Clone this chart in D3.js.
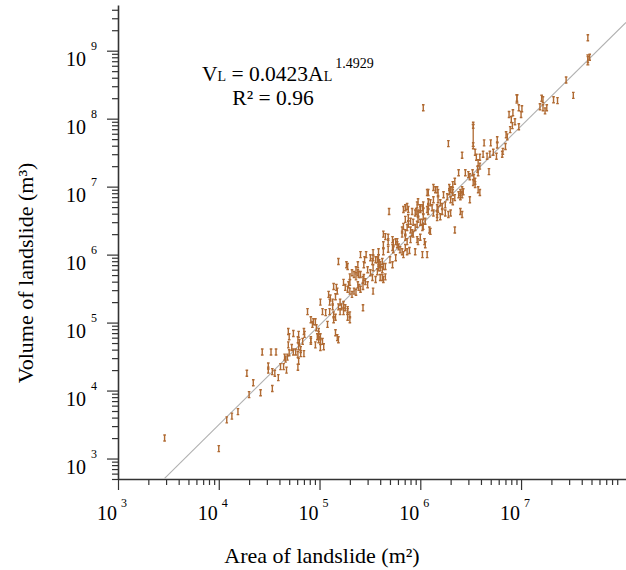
<!DOCTYPE html>
<html>
<head>
<meta charset="utf-8">
<title>Area vs volume of landslide</title>
<script src="https://d3js.org/d3.v7.min.js"></script>
<style>
  body { margin: 0; background: #fff; }
  svg { display: block; font-family: "Liberation Serif", "Times New Roman", serif; }
</style>
</head>
<body>
<script>
var width = 626, height = 570;

// tick exponents (labels are 10^n)
var xExponents = [3, 4, 5, 6, 7];
var yExponents = [3, 4, 5, 6, 7, 8, 9];

// landslide area (m2) and volume (m3)
var area = [
  2.9e3, 1.0e4, 1.2e4, 1.35e4, 1.55e4, 1.9e4, 2.0e4, 2.2e4, 2.6e4, 3.1e4,
  3.1e4, 3.4e4, 3.6e4, 3.4e4, 2.7e4, 3.3e4, 3.7e4, 3.9e4, 4.1e4, 4.4e4,
  4.7e4, 4.6e4, 4.8e4, 4.5e4, 4.9e4, 5.3e4, 5.0e4, 5.5e4, 5.8e4, 6.1e4,
  6.5e4, 6.2e4, 6.1e4, 6.8e4, 4.9e4, 5.5e4, 6.2e4, 7.0e4, 5.0e4, 7.1e4,
  6.2e4, 6.5e4, 7.0e4, 8.2e4, 9.5e4, 9.1e4, 1.02e5, 9.8e4, 1.44e5, 1.54e5,
  7.6e4, 8.2e4, 8.7e4, 9.1e4, 8.5e4, 9.3e4, 9.8e4, 1.02e5, 9.8e4, 1.07e5,
  1.1e5, 1.02e5, 8.2e4, 1.2e5, 1.5e5, 1.02e5, 1.07e5, 1.15e5, 1.23e5, 1.28e5,
  1.26e5, 1.35e5, 1.26e5, 1.38e5, 1.38e5, 1.47e5, 1.6e5, 1.65e5, 1.73e5, 1.8e5,
  1.9e5, 1.9e5, 2.0e5, 2.0e5, 1.54e5, 1.85e5, 1.73e5, 2.0e5, 2.1e5, 2.2e5,
  2.4e5, 1.9e5, 2.0e5, 2.2e5, 2.1e5, 2.4e5, 2.45e5, 1.38e5, 1.5e5, 1.44e5,
  1.8e5, 1.94e5, 2.3e5, 2.55e5, 2.7e5, 3.0e5, 2.85e5, 2.3e5, 2.45e5, 2.7e5,
  2.75e5, 3.35e5, 3.6e5, 4.0e5, 4.3e5, 4.5e5, 3.4e5, 2.7e5, 1.73e5, 1.9e5,
  1.54e5, 1.6e5, 1.35e5, 1.44e5, 2.55e5, 2.8e5, 2.9e5, 3.35e5, 3.4e5, 3.75e5,
  3.85e5, 3.9e5, 4.2e5, 4.0e5, 4.2e5, 4.3e5, 3.4e5, 4.8e5, 5.3e5, 4.3e5,
  4.3e5, 5.7e5, 5.9e5, 6.1e5, 6.3e5, 6.6e5, 6.8e5, 7.4e5, 7.1e5, 5.0e5,
  5.7e5, 5.3e5, 7.8e5, 8.9e5, 1.05e6, 1.17e6, 4.9e5, 6.8e5, 7.4e5, 6.6e5,
  6.8e5, 7.1e5, 7.4e5, 7.6e5, 8.0e5, 8.3e5, 8.5e5, 8.0e5, 8.5e5, 8.9e5,
  9.3e5, 9.1e5, 9.3e5, 9.5e5, 1.0e6, 1.07e6, 1.17e6, 9.5e5, 1.05e6, 1.07e6,
  1.12e6, 9.3e5, 9.5e5, 1.0e6, 1.17e6, 1.2e6, 1.2e6, 1.23e6, 2.0e6, 1.94e6,
  2.07e6, 1.94e6, 2.1e6, 1.2e6, 1.35e6, 1.47e6, 1.5e6, 2.5e6, 2.6e6, 2.67e6,
  3.35e6, 3.5e6, 3.75e6, 3.9e6, 3.1e6, 2.2e6, 1.26e6, 1.77e6, 1.9e6, 1.35e6,
  1.47e6, 1.5e6, 1.65e6, 9.5e5, 1.0e6, 1.07e6, 1.26e6, 1.35e6, 7.6e5, 1.1e6,
  1.12e6, 1.9e5, 4.3e5, 4.5e5, 4.8e5, 4.8e5, 5.3e5, 5.4e5, 5.9e5, 5.4e5,
  3.85e5, 3.4e5, 3.6e5, 3.85e5, 4.0e5, 3.85e5, 4.5e5, 3.2e5, 6.6e5, 7.1e5,
  7.4e5, 8.0e5, 7.1e5, 7.6e5, 1.0e6, 1.05e6, 2.75e5, 2.3e5, 2.4e5, 2.55e5,
  3.0e5, 3.2e5, 3.75e5, 4.2e5, 2.0e5, 3.35e6, 3.35e6, 1.9e6, 2.6e6, 4.3e6,
  5.0e6, 5.8e6, 5.8e6, 3.5e6, 3.6e6, 3.9e6, 4.2e6, 4.6e6, 4.9e6, 5.3e6,
  5.7e6, 3.75e6, 3.9e6, 3.7e6, 3.75e6, 3.3e6, 3.1e6, 3.4e6, 3.5e6, 4.8e6,
  2.8e6, 3.0e6, 2.4e6, 2.2e6, 2.1e6, 2.6e6, 2.4e6, 2.5e6, 1.41e6, 1.7e6,
  1.85e6, 2.0e6, 2.1e6, 2.2e6, 1.5e6, 1.58e6, 1.65e6, 1.47e6, 1.77e6, 1.05e6,
  1.31e6, 1.2e6, 7.1e5, 8.3e5, 8.9e5, 9.5e5, 1.07e6, 1.47e6, 1.58e6, 2.0e6,
  2.5e6, 2.6e6, 1.07e6, 6.5e6, 6.6e6, 7.0e6, 7.1e6, 7.3e6, 7.8e6, 8.7e6,
  8.0e6, 9.5e6, 8.2e6, 9.5e6, 1.02e7, 1.0e7, 7.6e6, 8.3e6, 9.1e6, 1.6e7,
  1.65e7, 1.54e7, 1.65e7, 1.73e7, 1.8e7, 2.1e7, 2.3e7, 2.8e7, 3.3e7, 4.6e7,
  4.6e7, 4.8e7, 6.1e4, 6.3e4
];
var volume = [
  2.0e3, 1.4e3, 3.7e3, 4.2e3, 4.9e3, 1.8e4, 8.7e3, 1.3e4, 9.3e3, 2.3e4,
  2.0e4, 1.9e4, 1.8e4, 1.07e4, 3.7e4, 3.7e4, 3.7e4, 1.55e4, 2.25e4, 2.25e4,
  2.0e4, 2.9e4, 3.1e4, 3.1e4, 4.7e4, 4.3e4, 3.6e4, 3.7e4, 3.7e4, 3.4e4,
  3.5e4, 2.7e4, 2.2e4, 5.3e4, 7.4e4, 6.9e4, 6.7e4, 7.4e4, 6.2e4, 6.7e4,
  4.4e4, 4.0e4, 3.5e4, 5.3e4, 6.2e4, 4.7e4, 5.3e4, 6.7e4, 7.1e4, 5.6e4,
  1.45e5, 1.1e5, 1.03e5, 1.03e5, 9.4e4, 8.4e4, 7.4e4, 6.2e4, 5.6e4, 5.3e4,
  4.4e4, 4.3e4, 5.6e4, 9.4e4, 6.0e4, 2.0e5, 1.45e5, 1.4e5, 2.6e5, 2.3e5,
  2.0e5, 1.7e5, 1.45e5, 1.3e5, 1.1e5, 3.3e5, 2.0e5, 1.7e5, 1.45e5, 1.65e5,
  1.45e5, 1.2e5, 1.3e5, 1.1e5, 7.9e5, 7.1e5, 3.9e5, 3.9e5, 5.4e5, 5.1e5,
  7.1e5, 3.1e5, 2.9e5, 2.9e5, 2.6e5, 3.6e5, 3.3e5, 3.4e5, 2.9e5, 2.4e5,
  3.3e5, 3.6e5, 2.8e5, 3.1e5, 3.4e5, 3.6e5, 4.0e5, 4.7e5, 5.1e5, 4.3e5,
  4.6e5, 4.6e5, 4.3e5, 4.6e5, 4.3e5, 4.7e5, 2.9e5, 1.65e5, 1.85e5, 1.55e5,
  1.7e5, 1.45e5, 2.0e5, 1.2e5, 1.0e6, 8.4e5, 1.0e6, 7.9e5, 9.0e5, 8.4e5,
  9.0e5, 7.6e5, 7.9e5, 6.4e5, 6.0e5, 6.7e5, 6.4e5, 1.2e6, 1.27e6, 1.4e6,
  1.1e6, 1.55e6, 1.4e6, 1.3e6, 1.18e6, 1.1e6, 1.0e6, 1.1e6, 1.27e6, 8.4e5,
  9.0e5, 7.1e5, 1.15e6, 1.1e6, 1.0e6, 1.0e6, 4.3e6, 4.6e6, 5.1e6, 2.3e6,
  2.6e6, 2.1e6, 2.5e6, 2.8e6, 2.3e6, 2.1e6, 2.0e6, 3.1e6, 3.0e6, 2.5e6,
  2.8e6, 4.3e6, 5.4e6, 4.1e6, 4.6e6, 4.3e6, 4.6e6, 3.3e6, 3.0e6, 2.6e6,
  3.1e6, 1.66e6, 1.55e6, 1.8e6, 8.2e6, 6.0e6, 5.1e6, 2.3e6, 9.0e6, 9.7e6,
  9.0e6, 8.4e6, 8.2e6, 8.2e6, 9.7e6, 9.0e6, 8.2e6, 8.2e6, 7.6e6, 8.4e6,
  1.15e7, 1.2e7, 9.0e6, 8.2e6, 6.4e6, 2.3e6, 2.2e6, 4.1e6, 3.9e6, 4.1e6,
  3.5e6, 4.6e6, 4.3e6, 6.0e6, 4.9e6, 5.4e6, 5.8e6, 6.4e6, 4.6e6, 1.55e6,
  1.4e6, 6.7e5, 2.0e6, 1.84e6, 1.8e6, 1.55e6, 1.66e6, 1.5e6, 1.55e6, 1.18e6,
  1.1e6, 1.07e6, 8.4e5, 7.4e5, 7.1e5, 6.4e5, 6.7e5, 9.0e5, 2.0e6, 1.8e6,
  1.55e6, 1.66e6, 3.3e6, 3.5e6, 3.0e6, 2.5e6, 7.1e5, 6.0e5, 5.4e5, 5.1e5,
  6.0e5, 5.4e5, 5.6e5, 4.6e5, 4.7e5, 8.0e7, 4.0e7, 4.3e7, 2.9e7, 4.4e7,
  4.4e7, 4.9e7, 4.1e7, 3.2e7, 2.7e7, 2.7e7, 3.0e7, 2.8e7, 3.0e7, 3.2e7,
  2.8e7, 2.25e7, 2.0e7, 1.8e7, 1.6e7, 1.6e7, 1.4e7, 1.36e7, 1.07e7, 1.66e7,
  1.6e7, 1.5e7, 1.6e7, 1.2e7, 1.07e7, 9.0e6, 7.6e6, 7.1e6, 9.0e6, 7.6e6,
  7.1e6, 6.4e6, 6.0e6, 6.9e6, 6.4e6, 5.8e6, 5.1e6, 4.9e6, 5.4e6, 4.9e6,
  4.9e6, 4.3e6, 4.9e6, 4.3e6, 4.1e6, 3.9e6, 3.6e6, 3.9e6, 3.6e6, 4.1e6,
  4.3e6, 3.9e6, 1.45e8, 3.0e7, 3.3e7, 3.9e7, 5.8e7, 5.4e7, 6.9e7, 9.0e7,
  9.7e7, 7.6e7, 7.9e7, 1.45e8, 1.4e8, 1.15e8, 1.15e8, 1.22e8, 2.0e8, 2.0e8,
  1.9e8, 1.5e8, 1.45e8, 1.3e8, 1.45e8, 1.9e8, 1.84e8, 3.7e8, 2.2e8, 1.55e9,
  7.4e8, 8.0e8, 5.6e4, 5.1e4
];

// the few points drawn with a visible range bar
var barArea = [3.35e6, 9.1e6, 4.6e7];
var barLow = [3.9e7, 1.7e8, 6.2e8];
var barHigh = [8.2e7, 2.25e8, 8.7e8];

// ends of the fitted power-law line as drawn
var fitArea = [2.9e3, 1.1e8];
var fitVolume = [5.1e2, 2.6e9];

var markColor = "#b06a32";
var axisColor = "#333";

var x = d3.scaleLog().domain([1e3, 1.1e8]).range([118, 626]);
var y = d3.scaleLog().domain([500, 4.7e9]).range([479, 5]);

var svg = d3.select("body").append("svg")
    .attr("width", width)
    .attr("height", height);

function isMajor(d) {
    var l = Math.log10(d);
    return Math.abs(l - Math.round(l)) < 1e-9;
}

var xMinor = x.ticks().filter(function(d) { return !isMajor(d); });
var yMinor = y.ticks().filter(function(d) { return !isMajor(d); });
var xMajor = xExponents.map(function(e) { return Math.pow(10, e); });
var yMajor = yExponents.map(function(e) { return Math.pow(10, e); });

// axes: minor ticks first, then major ticks with the axis line
svg.append("g")
    .attr("transform", "translate(0,479)")
    .call(d3.axisBottom(x).tickValues(xMinor).tickSize(6).tickFormat(""))
    .call(function(g) { g.select(".domain").remove(); });
svg.append("g")
    .attr("transform", "translate(0,479)")
    .call(d3.axisBottom(x).tickValues(xMajor).tickSize(11).tickSizeOuter(0).tickFormat(""));
svg.append("g")
    .attr("transform", "translate(118,0)")
    .call(d3.axisLeft(y).tickValues(yMinor).tickSize(6).tickFormat(""))
    .call(function(g) { g.select(".domain").remove(); });
svg.append("g")
    .attr("transform", "translate(118,0)")
    .call(d3.axisLeft(y).tickValues(yMajor).tickSize(11).tickSizeOuter(0).tickFormat(""));

svg.selectAll(".tick line").attr("stroke", axisColor).attr("stroke-width", 1.2);
svg.selectAll(".domain").attr("stroke", axisColor).attr("stroke-width", 1.6);

// tick labels 10^n
svg.selectAll("text.xbase").data(xExponents).enter().append("text")
    .attr("class", "xbase")
    .attr("x", function(e) { return x(Math.pow(10, e)) - 1; })
    .attr("y", 520)
    .attr("text-anchor", "end")
    .attr("font-size", 20)
    .text("10");
svg.selectAll("text.xexp").data(xExponents).enter().append("text")
    .attr("class", "xexp")
    .attr("x", function(e) { return x(Math.pow(10, e)) + 3; })
    .attr("y", 507)
    .attr("font-size", 12)
    .text(function(e) { return e; });

svg.selectAll("text.ybase").data(yExponents).enter().append("text")
    .attr("class", "ybase")
    .attr("x", 86)
    .attr("y", function(e) { return y(Math.pow(10, e)) + 15; })
    .attr("text-anchor", "end")
    .attr("font-size", 20)
    .text("10");
svg.selectAll("text.yexp").data(yExponents).enter().append("text")
    .attr("class", "yexp")
    .attr("x", 91)
    .attr("y", function(e) { return y(Math.pow(10, e)) - 1; })
    .attr("font-size", 12)
    .text(function(e) { return e; });

// axis titles
svg.append("text")
    .attr("x", 322).attr("y", 563)
    .attr("text-anchor", "middle")
    .attr("font-size", 22)
    .text("Area of landslide (m\u00b2)");
svg.append("text")
    .attr("transform", "translate(33,273) rotate(-90)")
    .attr("text-anchor", "middle")
    .attr("font-size", 22)
    .text("Volume of landslide (m\u00b3)");

// fit line, clipped to the plot area
svg.append("clipPath").attr("id", "plot")
    .append("rect").attr("x", 118).attr("y", 5).attr("width", 508).attr("height", 474);

var fit = fitArea.map(function(a, i) { return [a, fitVolume[i]]; });
svg.append("path")
    .datum(fit)
    .attr("clip-path", "url(#plot)")
    .attr("fill", "none")
    .attr("stroke", "#b0b0b0")
    .attr("stroke-width", 1.1)
    .attr("d", d3.line().x(function(d) { return x(d[0]); }).y(function(d) { return y(d[1]); }));

// range bars
svg.selectAll("path.bar").data(barArea).enter().append("path")
    .attr("class", "bar")
    .attr("fill", "none")
    .attr("stroke", markColor)
    .attr("stroke-width", 1.3)
    .attr("d", function(a, i) {
        var cx = x(a), y1 = y(barHigh[i]), y2 = y(barLow[i]);
        return "M" + cx + "," + y1 + "V" + y2 +
               "M" + (cx - 1.5) + "," + y1 + "h3" +
               "M" + (cx - 1.5) + "," + y2 + "h3";
    });

// point markers: small I-beam glyphs
svg.selectAll("path.pt").data(area).enter().append("path")
    .attr("class", "pt")
    .attr("fill", "none")
    .attr("stroke", markColor)
    .attr("stroke-width", 1.4)
    .attr("d", function(a, i) {
        var cx = x(a), cy = y(volume[i]);
        return "M" + cx + "," + (cy - 3) + "v6" +
               "M" + (cx - 1.3) + "," + (cy - 3) + "h2.6" +
               "M" + (cx - 1.3) + "," + (cy + 3) + "h2.6";
    });

// equation
var eq = svg.append("text")
    .attr("x", 202).attr("y", 81)
    .attr("font-size", 21.5);
eq.append("tspan").text("V");
eq.append("tspan").attr("font-size", 14).text("L");
eq.append("tspan").text(" = 0.0423A");
eq.append("tspan").attr("font-size", 14).text("L");
eq.append("tspan").attr("font-size", 14).attr("dx", 3).attr("dy", -13).text("1.4929");

svg.append("text")
    .attr("x", 273).attr("y", 105)
    .attr("text-anchor", "middle")
    .attr("font-size", 21.5)
    .text("R\u00b2 = 0.96");
</script>
</body>
</html>
